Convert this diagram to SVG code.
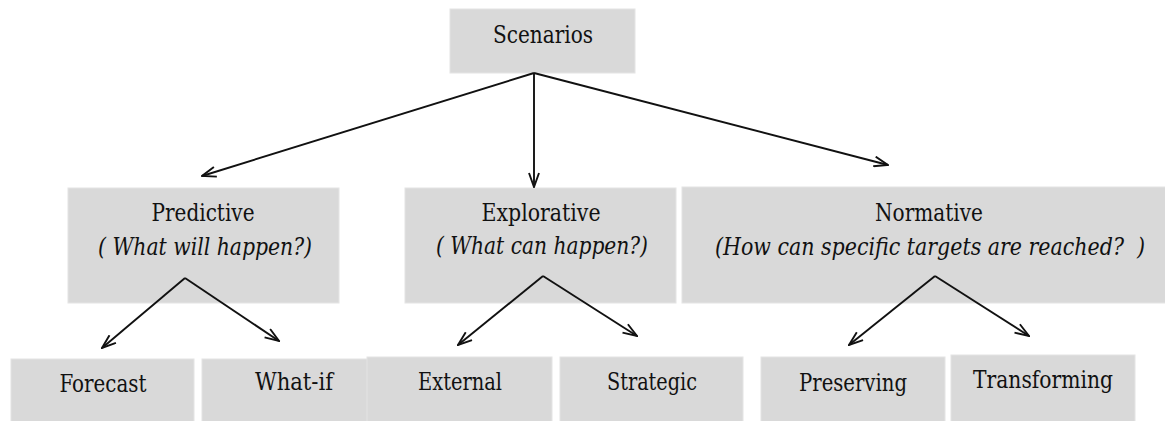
<svg xmlns="http://www.w3.org/2000/svg" width="1165" height="421" viewBox="0 0 1165 421">
<defs>
<style>
.box{fill:#d9d9d9;stroke:#e4e4e4;stroke-width:1}
.t{font-family:"DejaVu Serif","Liberation Serif",serif;font-stretch:condensed;font-size:24px;fill:#111;text-anchor:middle}
.i{font-style:italic}
.c{stroke:#111;stroke-width:1.9;fill:none;marker-end:url(#ah)}
</style>
<marker id="ah" viewBox="0 0 16 12" refX="15" refY="6" markerWidth="16" markerHeight="12" markerUnits="userSpaceOnUse" orient="auto">
<path d="M1,1 L15,6 L1,11" fill="none" stroke="#111" stroke-width="1.9"/>
</marker>
</defs>
<rect width="1165" height="421" fill="#fff"/>
<g id="scenarios"><rect class="box" x="450" y="9" width="185" height="64"/><text class="t" x="543" y="43" textLength="100" lengthAdjust="spacingAndGlyphs">Scenarios</text></g>
<g id="predictive"><rect class="box" x="68" y="188" width="271" height="115"/><text class="t" x="203" y="221" textLength="103" lengthAdjust="spacingAndGlyphs">Predictive</text><text class="t i" x="205" y="255" textLength="214" lengthAdjust="spacingAndGlyphs">( What will happen?)</text></g>
<g id="explorative"><rect class="box" x="405" y="188" width="271" height="115"/><text class="t" x="541" y="221" textLength="119" lengthAdjust="spacingAndGlyphs">Explorative</text><text class="t i" x="542" y="254" textLength="212" lengthAdjust="spacingAndGlyphs">( What can happen?)</text></g>
<g id="normative"><rect class="box" x="682" y="187" width="490" height="116"/><text class="t" x="929" y="221" textLength="108" lengthAdjust="spacingAndGlyphs">Normative</text><text class="t i" x="930" y="255" textLength="430" lengthAdjust="spacingAndGlyphs" xml:space="preserve">(How can specific targets are reached?  )</text></g>
<g id="forecast"><rect class="box" x="11" y="359" width="183" height="65"/><text class="t" x="103" y="392" textLength="87" lengthAdjust="spacingAndGlyphs">Forecast</text></g>
<g id="whatif"><rect class="box" x="202" y="359" width="170" height="65"/><text class="t" x="294" y="390" textLength="78" lengthAdjust="spacingAndGlyphs">What-if</text></g>
<g id="external"><rect class="box" x="367" y="357" width="185" height="67"/><text class="t" x="460" y="390" textLength="84" lengthAdjust="spacingAndGlyphs">External</text></g>
<g id="strategic"><rect class="box" x="560" y="357" width="183" height="67"/><text class="t" x="652" y="390" textLength="90" lengthAdjust="spacingAndGlyphs">Strategic</text></g>
<g id="preserving"><rect class="box" x="761" y="357" width="184" height="67"/><text class="t" x="853" y="391" textLength="108" lengthAdjust="spacingAndGlyphs">Preserving</text></g>
<g id="transforming"><rect class="box" x="951" y="355" width="184" height="69"/><text class="t" x="1043" y="388" textLength="140" lengthAdjust="spacingAndGlyphs">Transforming</text></g>
<g id="connectors">
<line class="c" x1="534" y1="73" x2="202" y2="176"/>
<line class="c" x1="534" y1="73" x2="534" y2="187"/>
<line class="c" x1="534" y1="73" x2="888" y2="165"/>
<line class="c" x1="185" y1="278" x2="102" y2="348"/>
<line class="c" x1="185" y1="278" x2="279" y2="341"/>
<line class="c" x1="543" y1="276" x2="458" y2="345"/>
<line class="c" x1="543" y1="276" x2="637" y2="336"/>
<line class="c" x1="935" y1="276" x2="849" y2="345"/>
<line class="c" x1="935" y1="276" x2="1029" y2="336"/>
</g>
</svg>
